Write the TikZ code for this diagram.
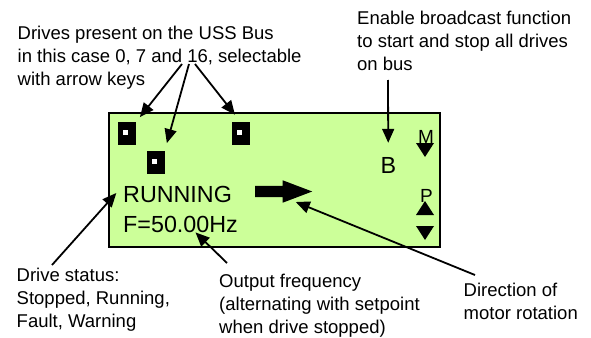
\documentclass[tikz,border=0pt]{standalone}
\usepackage{fontspec}
\setmainfont{Liberation Sans}
\usepackage{tikz}
\usetikzlibrary{positioning, calc, shapes.arrows, arrows.meta}
\definecolor{lcdgreen}{RGB}{204,255,153}

\tikzset{
  note/.style={anchor=north west, align=left, inner sep=0pt, font=\fontsize{18.5}{23}\selectfont},
  lcd/.style={anchor=base west, inner sep=0pt, font=\fontsize{23.3}{28}\selectfont},
  keylbl/.style={anchor=base west, inner sep=0pt, font=\fontsize{19}{22}\selectfont},
  drive/.style={fill=black, minimum width=18pt, minimum height=23pt, inner sep=0pt,
    path picture={\fill[white] ([xshift=-4pt,yshift=-1.5pt]path picture bounding box.center) rectangle ++(5pt,5pt);}},
  pointer/.style={line width=1.8pt, -{Triangle[length=14pt,width=12pt]}},
}

\begin{document}
\begin{tikzpicture}[x=1pt, y=-1pt]
            \useasboundingbox (0,0) rectangle (591,337);
            % display
            \draw[line width=2pt, fill=lcdgreen] (109,113) rectangle (440,247);
            \node[drive] (d0) at (127,133.5) {};
            \node[drive] (d7) at (155.5,162.5) {};
            \node[drive] (d16) at (240.5,133.5) {};
            \node[lcd] (run) at (123,202) {RUNNING};
            \node[lcd] (freq) at (123,232) {F=50.00Hz};
            \node[lcd] (bcast) at (380.3,173) {B};
            \node[single arrow, fill=black, anchor=tail, inner sep=5.5pt, minimum height=57pt,
              single arrow head extend=5.5pt, single arrow tip angle=41.6] (rot) at (255,191.5) {};
            \node[keylbl] (mkey) at (418,143) {M};
            \fill (416,143) -- (434,143) -- (425,157) -- cycle;
            \node[keylbl] (pkey) at (420,202) {P};
            \fill (416,215) -- (434,215) -- (425,201) -- cycle;
            \fill (416,226) -- (434,226) -- (425,240) -- cycle;
            % notes
            \node[note] (busnote) at (17.5,25.5) {Drives present on the USS Bus\\in this case 0, 7 and 16, selectable\\with arrow keys};
            \node[note] (bcastnote) at (357,10.5) {Enable broadcast function\\to start and stop all drives\\on bus};
            \node[note] (statusnote) at (16.5,268) {Drive status:\\Stopped, Running,\\Fault, Warning};
            \node[note] (freqnote) at (219,273.5) {Output frequency\\(alternating with setpoint\\when drive stopped)};
            \node[note] (dirnote) at (463.5,282.5) {Direction of\\motor rotation};
            % pointers
            \coordinate (k0) at (182,64);
            \coordinate (k7) at (189,64);
            \coordinate (k16) at (195,64);
            \coordinate (bc) at (388,80);
            \draw[pointer, shorten >=6pt] (k0) -- (d0.north east);
            \draw[pointer, shorten >=8pt] (k7) -- (d7.north east);
            \draw[pointer, shorten >=9pt] (k16) -- (d16.north);
            \draw[pointer, shorten >=14pt] (bc) -- (bcast.north);
            \draw[pointer, shorten >=10pt] ([xshift=35.5pt, yshift=3pt]statusnote.north west) -- (run.north west);
            \draw[pointer] ([xshift=8pt, yshift=10.5pt]freqnote.north west) -- ([xshift=15pt]freq.south);
            \draw[pointer] ([xshift=11.5pt, yshift=7.5pt]dirnote.north west) -- ($(rot.tip)+(-17,10.5)$);
        \end{tikzpicture}
\end{document}
